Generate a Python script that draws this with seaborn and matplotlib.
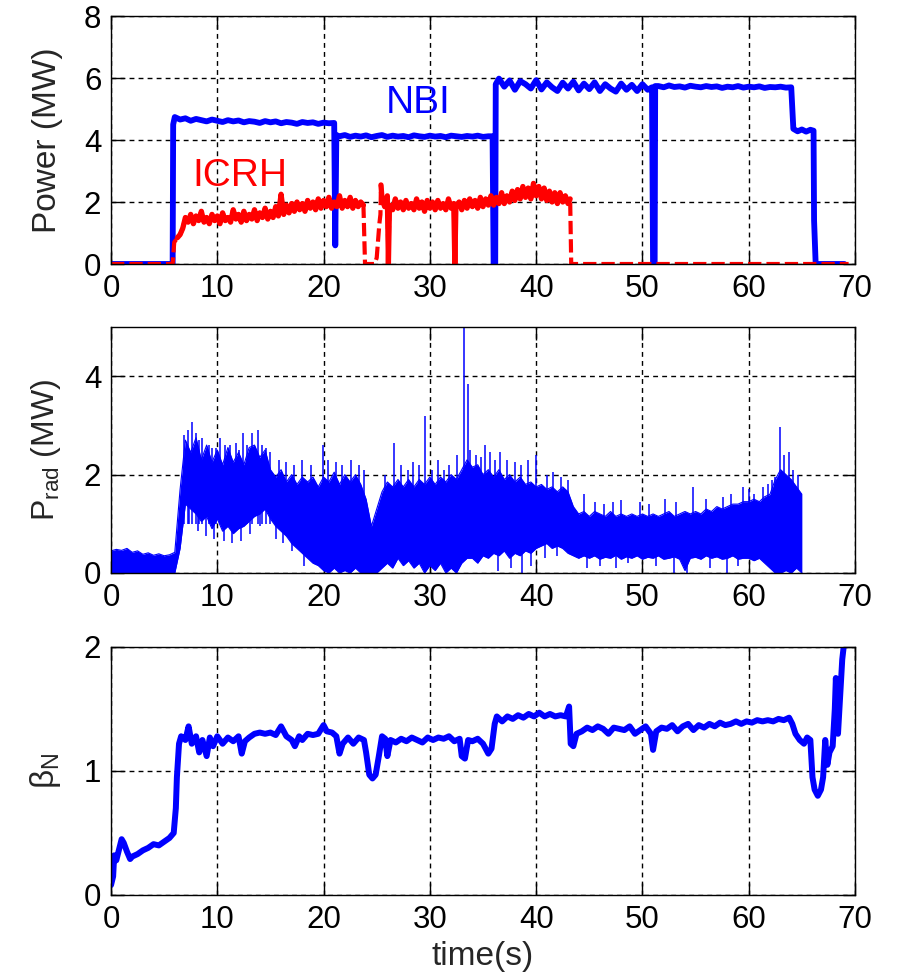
import matplotlib
matplotlib.use("Agg")
import matplotlib.pyplot as plt
import seaborn as sns

# ---------------- data ----------------
# NBI power (MW)
nbi_t = [0.0, 5.8, 5.85,
         6.0, 6.5, 7.0, 7.5, 8.0, 8.5, 9.0, 9.5, 10.0, 10.5,
         11.0, 11.5, 12.0, 12.5, 13.0, 13.5, 14.0, 14.5, 15.0, 15.5,
         16.0, 16.5, 17.0, 17.5, 18.0, 18.5, 19.0, 19.5, 20.0, 20.5, 21.0,
         21.1, 21.2,
         21.5, 22.0, 22.5, 23.0, 23.5, 24.0, 24.5, 25.0, 25.5, 26.0,
         26.5, 27.0, 27.5, 28.0, 28.5, 29.0, 29.5, 30.0, 30.5, 31.0,
         31.5, 32.0, 32.5, 33.0, 33.5, 34.0, 34.5, 35.0, 35.5,
         35.9, 36.0, 36.15, 36.2,
         36.5, 37.0, 37.5, 38.0, 38.5, 39.0, 39.5, 40.0, 40.5, 41.0,
         41.5, 42.0, 42.5, 43.0, 43.5, 44.0, 44.5, 45.0, 45.5, 46.0,
         46.5, 47.0, 47.5, 48.0, 48.5, 49.0, 49.5, 50.0, 50.5,
         50.9, 51.0, 51.15, 51.2,
         51.5, 52.0, 52.5, 53.0, 53.5, 54.0, 54.5, 55.0, 55.5, 56.0,
         56.5, 57.0, 57.5, 58.0, 58.5, 59.0, 59.5, 60.0, 60.5, 61.0,
         61.5, 62.0, 62.5, 63.0, 63.5, 64.0,
         64.2, 64.6, 65.0, 65.4, 65.8, 66.1, 66.15, 66.3, 69.0]
nbi_p = [0.0, 0.0, 4.50,
         4.74, 4.66, 4.70, 4.62, 4.68, 4.64, 4.60, 4.66, 4.62, 4.58,
         4.64, 4.60, 4.63, 4.57, 4.61, 4.59, 4.55, 4.61, 4.57, 4.60,
         4.54, 4.58, 4.56, 4.52, 4.58, 4.55, 4.57, 4.52, 4.56, 4.54, 4.55,
         0.60, 4.16,
         4.12, 4.16, 4.10, 4.14, 4.11, 4.15, 4.09, 4.13, 4.16, 4.10,
         4.14, 4.11, 4.13, 4.09, 4.15, 4.12, 4.10, 4.14, 4.11, 4.13,
         4.09, 4.14, 4.12, 4.10, 4.13, 4.11, 4.14, 4.10, 4.12,
         4.12, 0.0, 0.0, 5.80,
         5.98, 5.72, 5.92, 5.62, 5.90, 5.80, 5.66, 5.93, 5.63, 5.86,
         5.70, 5.58, 5.85, 5.66, 5.88, 5.60, 5.82, 5.64, 5.86, 5.58,
         5.80, 5.66, 5.56, 5.82, 5.62, 5.78, 5.58, 5.80, 5.62,
         5.70, 0.0, 0.0, 5.74,
         5.74, 5.70, 5.76, 5.71, 5.73, 5.69, 5.75, 5.72, 5.70, 5.74,
         5.71, 5.73, 5.68, 5.72, 5.70, 5.74, 5.69, 5.72, 5.70, 5.73,
         5.68, 5.71, 5.70, 5.72, 5.69, 5.70,
         4.36, 4.28, 4.34, 4.27, 4.33, 4.30, 1.40, 0.0, 0.0]

# ICRH power (MW)
icrh_t = [0.0, 5.8, 5.95, 6.25, 6.5, 6.75,
          7.0, 7.25, 7.5, 7.75, 8.0, 8.25, 8.5, 8.75, 9.0, 9.25,
          9.5, 9.75, 10.0, 10.25, 10.5, 10.75, 11.0, 11.25, 11.5, 11.75,
          12.0, 12.25, 12.5, 12.75, 13.0, 13.25, 13.5, 13.75, 14.0, 14.25,
          14.5, 14.75, 15.0, 15.25, 15.5, 15.75, 16.0, 16.25, 16.5, 16.75,
          17.0, 17.25, 17.5, 17.75, 18.0, 18.25, 18.5, 18.75, 19.0, 19.25,
          19.5, 19.75, 20.0, 20.25, 20.5, 20.75, 21.0, 21.25, 21.5, 21.75,
          22.0, 22.25, 22.5, 22.75, 23.0, 23.25, 23.5, 23.75, 23.9, 24.8,
          25.0, 25.25, 25.35, 25.4, 25.5, 25.75, 26.0, 26.1, 26.2, 26.5,
          26.75, 27.0, 27.25, 27.5, 27.75, 28.0, 28.25, 28.5, 28.75, 29.0,
          29.25, 29.5, 29.75, 30.0, 30.25, 30.5, 30.75, 31.0, 31.25, 31.5,
          31.75, 32.0, 32.25, 32.35, 32.45, 32.75, 33.0, 33.25, 33.5, 33.75,
          34.0, 34.25, 34.5, 34.75, 35.0, 35.25, 35.5, 35.75, 36.0, 36.25,
          36.5, 36.75, 37.0, 37.25, 37.5, 37.75, 38.0, 38.25, 38.5, 38.75,
          39.0, 39.25, 39.5, 39.75, 40.0, 40.25, 40.5, 40.75, 41.0, 41.25,
          41.5, 41.75, 42.0, 42.25, 42.5, 42.75, 43.0, 43.2, 43.3, 69.4]
icrh_p = [0.0, 0.0, 0.70, 0.85, 0.95, 1.15,
          1.50, 1.35, 1.60, 1.30, 1.55, 1.40, 1.70, 1.35, 1.50, 1.30,
          1.60, 1.40, 1.55, 1.30, 1.65, 1.40, 1.50, 1.35, 1.75, 1.45,
          1.60, 1.35, 1.70, 1.40, 1.60, 1.45, 1.75, 1.40, 1.65, 1.50,
          1.80, 1.45, 1.70, 1.50, 1.85, 1.55, 2.25, 1.60, 1.90, 1.65,
          1.95, 1.70, 2.00, 1.75, 1.95, 1.70, 2.05, 1.80, 2.00, 1.75,
          2.10, 1.80, 2.05, 1.85, 2.15, 1.80, 2.00, 1.85, 2.20, 1.80,
          2.05, 1.85, 2.15, 1.80, 2.05, 1.85, 2.00, 1.90, 0.00, 0.00,
          0.20, 1.30, 1.60, 2.55, 2.10, 1.85, 2.20, 0.00, 1.90, 1.75,
          2.10, 1.80, 2.00, 1.75, 2.05, 1.80, 1.95, 1.75, 2.10, 1.80,
          2.00, 1.70, 2.05, 1.80, 2.00, 1.75, 2.05, 1.80, 1.95, 1.75,
          2.10, 1.80, 1.95, 0.00, 1.85, 2.00, 1.75, 2.05, 1.80, 2.10,
          1.85, 2.05, 1.80, 2.15, 1.85, 2.10, 1.90, 2.20, 1.90, 2.15,
          1.95, 2.30, 1.95, 2.20, 2.00, 2.35, 2.05, 2.40, 2.10, 2.50,
          2.15, 2.45, 2.10, 2.60, 2.20, 2.50, 2.10, 2.45, 2.05, 2.35,
          2.00, 2.30, 1.95, 2.30, 2.00, 2.20, 1.95, 2.10, 0.00, 0.00]

# Radiated power envelope (MW), every 0.5 s from 0 to 65 s
prad_t = [0.0, 0.5, 1.0, 1.5, 2.0, 2.5, 3.0, 3.5, 4.0, 4.5,
          5.0, 5.5, 6.0, 6.5, 7.0, 7.5, 8.0, 8.5, 9.0, 9.5,
          10.0, 10.5, 11.0, 11.5, 12.0, 12.5, 13.0, 13.5, 14.0, 14.5,
          15.0, 15.5, 16.0, 16.5, 17.0, 17.5, 18.0, 18.5, 19.0, 19.5,
          20.0, 20.5, 21.0, 21.5, 22.0, 22.5, 23.0, 23.5, 24.0, 24.5,
          25.0, 25.5, 26.0, 26.5, 27.0, 27.5, 28.0, 28.5, 29.0, 29.5,
          30.0, 30.5, 31.0, 31.5, 32.0, 32.5, 33.0, 33.5, 34.0, 34.5,
          35.0, 35.5, 36.0, 36.5, 37.0, 37.5, 38.0, 38.5, 39.0, 39.5,
          40.0, 40.5, 41.0, 41.5, 42.0, 42.5, 43.0, 43.5, 44.0, 44.5,
          45.0, 45.5, 46.0, 46.5, 47.0, 47.5, 48.0, 48.5, 49.0, 49.5,
          50.0, 50.5, 51.0, 51.5, 52.0, 52.5, 53.0, 53.5, 54.0, 54.5,
          55.0, 55.5, 56.0, 56.5, 57.0, 57.5, 58.0, 58.5, 59.0, 59.5,
          60.0, 60.5, 61.0, 61.5, 62.0, 62.5, 63.0, 63.5, 64.0, 64.5,
          65.0]
prad_hi = [0.45, 0.48, 0.46, 0.50, 0.42, 0.45, 0.38, 0.41, 0.36, 0.39,
           0.35, 0.37, 0.42, 1.70, 2.70, 2.45, 2.75, 2.30, 2.60, 2.25,
           2.50, 2.20, 2.55, 2.25, 2.45, 2.20, 2.55, 2.60, 2.35, 2.50,
           2.10, 1.95, 2.10, 1.85, 2.00, 1.80, 1.95, 1.85, 1.95, 1.75,
           1.95, 1.85, 2.05, 1.80, 2.00, 1.85, 2.00, 1.80, 1.50, 0.95,
           1.30, 1.65, 1.85, 1.75, 1.90, 1.75, 1.90, 1.75, 1.90, 1.80,
           1.95, 1.80, 1.95, 1.85, 2.00, 1.90, 2.10, 2.30, 2.15, 2.20,
           2.00, 2.10, 1.95, 2.10, 1.90, 2.00, 1.85, 1.95, 1.80, 1.85,
           1.75, 1.80, 1.70, 1.75, 1.65, 1.75, 1.65, 1.35, 1.20, 1.25,
           1.15, 1.25, 1.20, 1.15, 1.25, 1.15, 1.20, 1.15, 1.20, 1.15,
           1.20, 1.15, 1.20, 1.15, 1.20, 1.25, 1.15, 1.20, 1.25, 1.20,
           1.25, 1.20, 1.30, 1.25, 1.35, 1.30, 1.35, 1.40, 1.40, 1.45,
           1.45, 1.50, 1.45, 1.55, 1.60, 1.90, 2.10, 2.00, 1.90, 1.75,
           1.60]
prad_lo = [0.00, 0.00, 0.00, 0.00, 0.00, 0.00, 0.00, 0.00, 0.00, 0.00,
           0.00, 0.00, 0.00, 0.50, 1.40, 1.30, 1.20, 1.05, 1.15, 0.90,
           1.10, 0.85, 0.95, 0.80, 0.90, 0.95, 1.05, 1.15, 1.20, 1.30,
           1.10, 0.95, 0.85, 0.75, 0.60, 0.50, 0.40, 0.30, 0.20, 0.15,
           0.05, 0.00, 0.10, 0.00, 0.05, 0.00, 0.10, 0.00, 0.00, 0.00,
           0.00, 0.10, 0.20, 0.10, 0.30, 0.15, 0.25, 0.10, 0.20, 0.00,
           0.15, 0.05, 0.20, 0.00, 0.10, 0.00, 0.20, 0.30, 0.30, 0.20,
           0.35, 0.30, 0.40, 0.35, 0.45, 0.30, 0.40, 0.35, 0.45, 0.40,
           0.50, 0.55, 0.60, 0.50, 0.55, 0.50, 0.40, 0.35, 0.30, 0.35,
           0.30, 0.35, 0.28, 0.32, 0.30, 0.36, 0.28, 0.33, 0.30, 0.35,
           0.28, 0.32, 0.30, 0.35, 0.28, 0.30, 0.33, 0.28, 0.05, 0.30,
           0.32, 0.28, 0.35, 0.30, 0.33, 0.28, 0.30, 0.35, 0.28, 0.30,
           0.30, 0.25, 0.30, 0.20, 0.10, 0.00, 0.00, 0.05, 0.00, 0.10,
           0.00]
# upward radiation spikes (time, peak MW)
spike_t = [6.9, 7.2, 7.6, 8.0, 8.3, 8.6, 9.2, 9.5, 9.9, 10.3,
           10.7, 11.2, 11.8, 12.0, 12.4, 12.8, 13.3, 13.8, 14.2, 14.6,
           15.0, 15.8, 16.5, 17.2, 18.0, 18.8, 19.9, 20.4, 21.2, 21.7,
           22.6, 23.3, 23.8, 25.8, 26.6, 27.3, 27.9, 28.4, 29.0, 29.5,
           30.2, 30.8, 31.3, 31.8, 32.6, 33.25, 33.55, 33.8, 34.3, 34.8,
           35.2, 35.7, 36.1, 36.6, 37.3, 38.0, 38.6, 39.2, 40.0, 41.0,
           41.6, 42.3, 43.0, 44.5, 45.5, 46.4, 47.2, 48.0, 49.8, 50.6,
           52.1, 53.2, 54.8, 56.0, 57.6, 58.3, 59.5, 60.0, 60.5, 61.3,
           61.8, 62.2, 62.5, 62.9, 63.3, 63.8, 64.2, 64.6]
spike_p = [2.80, 2.90, 3.07, 2.85, 2.70, 2.75, 2.60, 2.55, 2.55, 2.75,
           2.60, 2.60, 2.65, 2.50, 2.85, 2.60, 2.85, 2.90, 2.60, 2.55,
           2.45, 2.30, 2.25, 2.20, 2.30, 2.20, 2.60, 2.30, 2.25, 2.20,
           2.30, 2.20, 2.10, 2.00, 2.65, 2.20, 2.10, 2.25, 2.20, 3.20,
           2.10, 2.30, 2.10, 2.20, 2.40, 5.00, 3.85, 2.50, 2.40, 2.35,
           2.60, 2.45, 2.30, 2.45, 2.30, 2.25, 2.20, 2.30, 2.40, 2.00,
           2.05, 1.95, 1.90, 1.60, 1.45, 1.40, 1.45, 1.48, 1.45, 1.40,
           1.50, 1.45, 1.75, 1.50, 1.55, 1.60, 1.75, 1.70, 1.60, 1.75,
           1.80, 1.90, 1.95, 2.97, 2.40, 2.45, 2.10, 2.00]
# downward dips below the dense band (time, bottom MW, top MW)
dip_t = [7.3, 8.2, 8.9, 9.7, 10.6, 11.4, 12.2, 13.1, 14.0,
         15.5, 16.2, 17.0, 18.2,
         36.4, 37.6, 38.7, 39.5, 40.8, 42.0,
         44.8, 46.0, 47.5, 48.6, 51.3, 53.0, 54.2, 56.4, 58.0, 59.0]
dip_lo = [1.00, 0.85, 0.75, 0.70, 0.65, 0.60, 0.65, 0.80, 0.95,
          0.70, 0.60, 0.45, 0.15,
          0.05, 0.10, 0.00, 0.15, 0.30, 0.35,
          0.10, 0.15, 0.10, 0.20, 0.15, 0.00, 0.00, 0.10, 0.00, 0.15]
dip_hi = [1.50, 1.50, 1.50, 1.50, 1.50, 1.50, 1.50, 1.50, 1.50,
          1.20, 1.20, 1.20, 1.20,
          1.00, 1.00, 1.00, 1.00, 1.00, 1.00,
          0.70, 0.70, 0.70, 0.70, 0.70, 0.70, 0.70, 0.70, 0.70, 0.70]

# normalised beta
beta_t = [0.0, 0.2, 0.3, 0.5, 0.8, 1.0, 1.2, 1.5, 1.8, 2.0,
          2.5, 3.0, 3.5, 4.0, 4.5, 5.0, 5.5, 5.9, 6.1, 6.2,
          6.4, 6.6, 7.0, 7.3, 7.6, 8.0, 8.3, 8.6, 9.0, 9.3,
          9.6, 10.0, 10.5, 11.0, 11.5, 12.0, 12.3, 12.6, 13.0, 13.5,
          14.0, 14.5, 15.0, 15.5, 16.0, 16.5, 17.0, 17.3, 17.7, 18.0,
          18.5, 19.0, 19.5, 20.0, 20.3, 20.8, 21.2, 21.5, 21.8, 22.3,
          22.8, 23.3, 23.8, 24.0, 24.3, 24.6, 24.9, 25.2, 25.5, 25.8,
          26.0, 26.3, 26.8, 27.3, 27.8, 28.3, 28.8, 29.3, 29.8, 30.3,
          30.8, 31.3, 31.8, 32.3, 32.8, 33.0, 33.3, 33.6, 34.0, 34.5,
          35.0, 35.5, 35.8, 36.1, 36.3, 36.8, 37.3, 37.8, 38.3, 38.8,
          39.3, 39.8, 40.3, 40.8, 41.3, 41.8, 42.3, 42.8, 43.1, 43.25,
          43.5, 43.8, 44.3, 44.8, 45.3, 45.8, 46.3, 46.8, 47.3, 47.8,
          48.3, 48.8, 49.3, 49.8, 50.3, 50.8, 51.0, 51.3, 51.8, 52.3,
          52.8, 53.3, 53.8, 54.3, 54.8, 55.3, 55.8, 56.3, 56.8, 57.3,
          57.8, 58.3, 58.8, 59.3, 59.8, 60.3, 60.8, 61.3, 61.8, 62.3,
          62.8, 63.3, 63.8, 64.1, 64.4, 64.8, 65.2, 65.5, 65.8, 66.0,
          66.2, 66.5, 66.8, 67.0, 67.2, 67.4, 67.6, 67.9, 68.1, 68.2,
          68.4, 68.6, 68.8, 69.0]
beta_v = [0.08, 0.15, 0.32, 0.28, 0.38, 0.45, 0.42, 0.35, 0.29, 0.31,
          0.33, 0.36, 0.38, 0.41, 0.40, 0.43, 0.46, 0.50, 0.70, 0.95,
          1.22, 1.28, 1.25, 1.36, 1.22, 1.28, 1.15, 1.25, 1.12, 1.27,
          1.20, 1.28, 1.22, 1.27, 1.24, 1.28, 1.14, 1.24, 1.27, 1.30,
          1.31, 1.30, 1.31, 1.29, 1.36, 1.28, 1.25, 1.20, 1.28, 1.25,
          1.30, 1.29, 1.30, 1.37, 1.32, 1.31, 1.28, 1.14, 1.22, 1.27,
          1.22, 1.27, 1.25, 1.15, 0.97, 0.94, 0.97, 1.12, 1.28, 1.26,
          1.12, 1.25, 1.23, 1.26, 1.24, 1.27, 1.25, 1.23, 1.27, 1.25,
          1.27, 1.26, 1.28, 1.24, 1.26, 1.12, 1.10, 1.25, 1.24, 1.26,
          1.22, 1.14, 1.18, 1.38, 1.44, 1.40, 1.44, 1.42, 1.45, 1.43,
          1.46, 1.44, 1.47, 1.44, 1.46, 1.44, 1.45, 1.44, 1.52, 1.22,
          1.20, 1.30, 1.32, 1.35, 1.33, 1.36, 1.34, 1.30, 1.35, 1.34,
          1.33, 1.36, 1.30, 1.33, 1.36, 1.30, 1.17, 1.32, 1.35, 1.34,
          1.37, 1.32, 1.36, 1.38, 1.33, 1.37, 1.35, 1.38, 1.36, 1.39,
          1.37, 1.38, 1.40, 1.38, 1.40, 1.39, 1.41, 1.40, 1.41, 1.40,
          1.42, 1.41, 1.43, 1.38, 1.30, 1.25, 1.22, 1.27, 1.25, 0.95,
          0.85, 0.80, 0.85, 0.95, 1.25, 1.05, 1.15, 1.20, 1.50, 1.75,
          1.30, 1.60, 1.90, 2.05]

x_ticks = [0, 10, 20, 30, 40, 50, 60, 70]
power_ticks = [0, 2, 4, 6, 8]
prad_ticks = [0, 2, 4]
beta_ticks = [0, 1, 2]

# ---------------- style ----------------
sns.set_theme(style="white")
plt.rcParams['font.family'] = ['Liberation Sans', 'DejaVu Sans']
plt.rcParams['mathtext.fontset'] = 'custom'
plt.rcParams['mathtext.rm'] = 'Liberation Sans'
plt.rcParams['mathtext.it'] = 'Liberation Sans:italic'
plt.rcParams['mathtext.bf'] = 'Liberation Sans:bold'
plt.rcParams['axes.axisbelow'] = True

BLUE = '#0000ff'
RED = '#ff0000'

W, H = 897, 980
fig = plt.figure(figsize=(W / 100, H / 100), dpi=100, facecolor='white')


def add_ax(top, bottom):
    return fig.add_axes([111 / W, 1 - bottom / H, (855 - 111) / W, (bottom - top) / H])


ax1 = add_ax(16, 264)
ax2 = add_ax(327, 573)
ax3 = add_ax(647, 895)


def style(ax, ylim, yticks):
    ax.set_facecolor('white')
    ax.set_xlim(0, 70)
    ax.set_ylim(*ylim)
    ax.set_xticks(x_ticks)
    ax.set_yticks(yticks)
    ax.tick_params(direction='in', length=9, width=1.0, top=True, right=True,
                   bottom=True, left=True, labelsize=22.5, pad=7,
                   colors='black')
    ax.grid(True, color='black', linestyle=(0, (3.5, 3)), linewidth=1.0)
    for s in ax.spines.values():
        s.set_visible(True)
        s.set_color('black')
        s.set_linewidth(1.0)
    ax.set_xlabel('')


# ---- top: heating power ----
sns.lineplot(x=nbi_t, y=nbi_p, ax=ax1, color=BLUE, linewidth=4.2,
             estimator=None, sort=False, errorbar=None)
# whole ICRH trace dashed, noisy flat-top parts drawn solid over it
sns.lineplot(x=icrh_t, y=icrh_p, ax=ax1, color=RED, linewidth=3.0,
             linestyle=(0, (3.2, 1.2)), estimator=None, sort=False, errorbar=None)
sns.lineplot(x=icrh_t[3:74], y=icrh_p[3:74], ax=ax1, color=RED, linewidth=3.8,
             estimator=None, sort=False, errorbar=None)
sns.lineplot(x=icrh_t[79:154], y=icrh_p[79:154], ax=ax1, color=RED, linewidth=3.8,
             estimator=None, sort=False, errorbar=None)
ax1.text(28.9, 5.2, 'NBI', color=BLUE, fontsize=28, ha='center', va='center')
ax1.text(12.1, 2.85, 'ICRH', color=RED, fontsize=28, ha='center', va='center')
style(ax1, (0, 8), power_ticks)
ax1.set_ylabel('Power (MW)', fontsize=24)

# ---- middle: radiated power ----
ax2.fill_between(prad_t, prad_lo, prad_hi, color=BLUE, linewidth=0)
sns.lineplot(x=prad_t, y=prad_hi, ax=ax2, color=BLUE, linewidth=0.8,
             estimator=None, sort=False, errorbar=None)
sns.lineplot(x=prad_t, y=prad_lo, ax=ax2, color=BLUE, linewidth=0.8,
             estimator=None, sort=False, errorbar=None)
ax2.vlines(spike_t, 1.0, spike_p, color=BLUE, linewidth=1.1)
ax2.vlines(dip_t, dip_lo, dip_hi, color=BLUE, linewidth=1.1)
style(ax2, (0, 5), prad_ticks)
ax2.set_ylabel(r'P$_{\mathregular{rad}}$ (MW)', fontsize=23)

# ---- bottom: beta_N ----
sns.lineplot(x=beta_t, y=beta_v, ax=ax3, color=BLUE, linewidth=4.3,
             estimator=None, sort=False, errorbar=None)
style(ax3, (0, 2), beta_ticks)
ax3.set_ylabel(r'$\mathregular{\beta_N}$', fontsize=24)
ax3.set_xlabel('time(s)', fontsize=24)

for ax in (ax1, ax2, ax3):
    ax.yaxis.set_label_coords(-0.064, 0.5)
ax3.xaxis.set_label_coords(0.5, -0.185)

fig.savefig('out.png', dpi=100, facecolor='white')
